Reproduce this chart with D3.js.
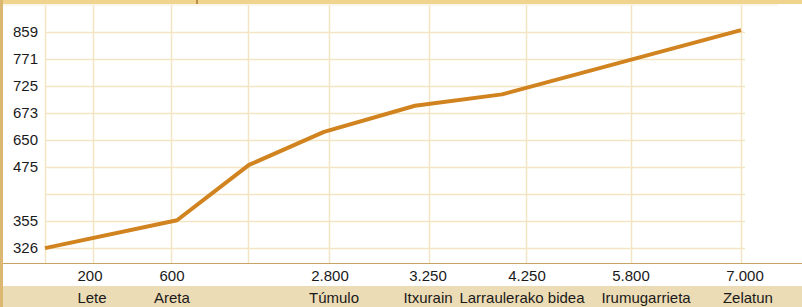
<!DOCTYPE html>
<html>
<head>
<meta charset="utf-8">
<script src="https://cdn.jsdelivr.net/npm/d3@7"></script>
<style>
  html, body { margin: 0; padding: 0; background: #fff; overflow: hidden; }
  text { font-family: "Liberation Sans", Arial, sans-serif; font-size: 15px; fill: #1a1a1a; }
</style>
</head>
<body>
<script>
var w = 802,
  h = 307;

// elevation grid (m); 415 line has no label in the original
var yGrid = [326, 355, 415, 475, 650, 673, 725, 771, 859];
var yLabels = ["326", "355", "", "475", "650", "673", "725", "771", "859"];

// positions along the route axis (m) of the vertical grid lines
var xGrid = [483, 1267, 2042, 2856, 3862, 4838, 5894, 7000];

// distance labels and place names, with where they sit along the axis (m)
var xNumbers = ["200", "600", "2.800", "3.250", "4.250", "5.800", "7.000"];
var xNumbersAt = [453, 1277, 2866, 3852, 4848, 5894, 7040];
var xNames = ["Lete", "Areta", "Túmulo", "Itxurain", "Larraulerako bidea", "Irumugarrieta", "Zelatun"];
var xNamesAt = [473, 1277, 2907, 3852, 4797, 6045, 7070];

// profile
var routeDist = [0, 1328, 2052, 2806, 3721, 4596, 7000];
var routeElev = [326, 357, 489, 657, 687, 709, 865];

var plotLeft = 45,
  plotRight = 741,
  plotTop = 5,
  axisY = 263;

var x = d3.scaleLinear().domain([0, 7000]).range([plotLeft, plotRight]);
var level = d3.scaleLinear().domain(yGrid).range(d3.range(yGrid.length));
var yPx = d3.scaleLinear().domain([-0.55, 9]).range([axisY, plotTop]);
var y = function (v) {
  return yPx(level(v));
};

var svg = d3.select("body").append("svg").attr("width", w).attr("height", h);

// frame bits
svg.append("rect").attr("x", 0).attr("y", 0).attr("width", w).attr("height", 4).attr("fill", "#f0d48e");
svg.append("rect").attr("x", 196).attr("y", 0).attr("width", 2).attr("height", 4).attr("fill", "#b88c42");
svg.append("line").attr("x1", 3).attr("x2", 778).attr("y1", 5).attr("y2", 5)
  .attr("stroke", "#f7edd6").attr("stroke-width", 1);
svg.append("rect").attr("x", 3).attr("y", 286).attr("width", w - 3).attr("height", 21).attr("fill", "#ecdcb6");
svg.append("rect").attr("x", 0).attr("y", 0).attr("width", 3).attr("height", h).attr("fill", "#dcb772");

// grid
var grid = svg.append("g").attr("stroke", "#f3e5c4").attr("stroke-width", 1.5);
grid.selectAll(".hg")
  .data(yGrid)
  .enter()
  .append("line")
  .attr("x1", plotLeft)
  .attr("x2", plotRight + 4)
  .attr("y1", function (d) { return Math.round(y(d)) + 0.5; })
  .attr("y2", function (d) { return Math.round(y(d)) + 0.5; });
grid.selectAll(".vg")
  .data([0].concat(xGrid))
  .enter()
  .append("line")
  .attr("x1", function (d) { return Math.round(x(d)) + 0.5; })
  .attr("x2", function (d) { return Math.round(x(d)) + 0.5; })
  .attr("y1", plotTop)
  .attr("y2", axisY);

// bottom axis line
svg.append("line").attr("x1", 3).attr("x2", w).attr("y1", axisY + 0.5).attr("y2", axisY + 0.5)
  .attr("stroke", "#c9a266").attr("stroke-width", 1.2);

// y labels
svg.selectAll(".yl")
  .data(yGrid)
  .enter()
  .append("text")
  .attr("x", 38)
  .attr("y", function (d) { return y(d) + 5; })
  .attr("text-anchor", "end")
  .text(function (d, i) { return yLabels[i]; });

// x labels
svg.selectAll(".xn")
  .data(xNumbersAt)
  .enter()
  .append("text")
  .attr("x", function (d) { return x(d); })
  .attr("y", 281)
  .attr("text-anchor", "middle")
  .text(function (d, i) { return xNumbers[i]; });
svg.selectAll(".xl")
  .data(xNamesAt)
  .enter()
  .append("text")
  .attr("x", function (d) { return x(d); })
  .attr("y", 303)
  .attr("text-anchor", "middle")
  .text(function (d, i) { return xNames[i]; });

// profile line
var line = d3.line()
  .x(function (d, i) { return x(routeDist[i]); })
  .y(function (d) { return y(d); });
svg.append("path")
  .datum(routeElev)
  .attr("d", line)
  .attr("fill", "none")
  .attr("stroke", "#d0831f")
  .attr("stroke-width", 4)
  .attr("stroke-linejoin", "round");
</script>
</body>
</html>
